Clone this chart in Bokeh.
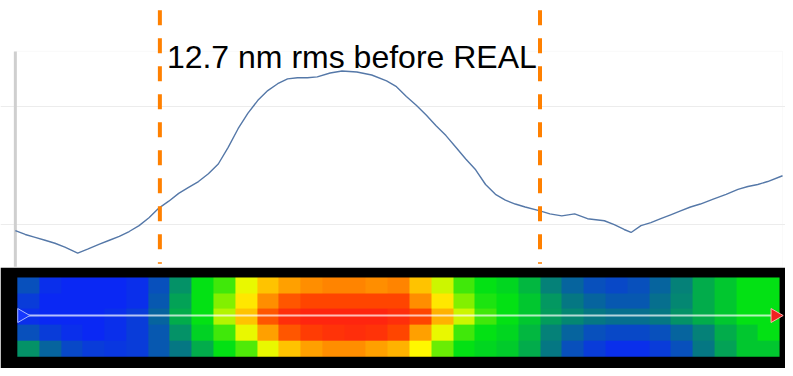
import numpy as np
from bokeh.plotting import figure
from bokeh.models import Range1d, BoxAnnotation, Label, Grid, FixedTicker, LinearColorMapper
from bokeh.embed import file_html
from bokeh.resources import INLINE

# ---- data -------------------------------------------------------------
# line profile: position along the line (um) and height (nm)
profile_x = [0.0, 1.0, 2.0, 3.0, 4.0, 5.0, 6.3, 7.3, 8.5, 9.5, 10.5, 11.5, 12.5, 13.5,
             14.5, 15.5, 16.5, 17.5, 18.5, 19.5, 20.5, 21.5, 22.5, 23.5, 24.5, 25.5,
             26.5, 27.5, 28.5, 29.5, 30.5, 31.8, 33.0, 34.5, 36.0, 37.5, 38.5, 39.5,
             40.5, 41.5, 42.5, 43.5, 44.5, 45.5, 46.5, 47.5, 48.5, 49.5, 50.5, 51.5,
             53.0, 54.0, 55.2, 56.5, 57.8, 59.5, 60.5, 61.5, 62.2, 63.2, 64.2, 65.2,
             66.2, 67.2, 68.2, 69.2, 70.5, 71.8, 73.0, 74.0, 75.0, 76.0, 77.5]
profile_nm = [-0.50, -0.83, -1.07, -1.32, -1.57, -1.90, -2.40, -2.07, -1.65, -1.32, -0.99,
              -0.58, -0.08, 0.58, 1.40, 1.98, 2.64, 3.14, 3.64, 4.30, 5.12, 6.53, 8.10,
              9.42, 10.50, 11.32, 11.90, 12.31, 12.40, 12.40, 12.48, 12.81, 12.98, 12.89,
              12.64, 12.15, 11.65, 10.83, 10.08, 9.26, 8.35, 7.52, 6.53, 5.54, 4.63, 3.39,
              2.56, 2.07, 1.74, 1.49, 1.16, 0.91, 0.74, 0.91, 0.50, 0.33, 0.00, -0.41,
              -0.66, -0.08, 0.17, 0.50, 0.83, 1.16, 1.49, 1.74, 2.15, 2.56, 2.98, 3.22,
              3.39, 3.64, 4.13]
grid_nm = [0, 10]
marker_x = [14.6, 53.0]
label_text = "12.7 nm rms before REAL"

# height map strip (normalised 0..1), rows from top to bottom
strip_row_top = [0.20, 0.12, 0.10, 0.10, 0.10, 0.12, 0.20, 0.35, 0.50, 0.55, 0.68, 0.76,
                 0.80, 0.82, 0.83, 0.83, 0.82, 0.83, 0.76, 0.66, 0.55, 0.50, 0.48, 0.42,
                 0.32, 0.25, 0.20, 0.18, 0.20, 0.25, 0.32, 0.40, 0.45, 0.50, 0.50]
strip_row_2 = [0.15, 0.10, 0.10, 0.10, 0.10, 0.12, 0.22, 0.38, 0.50, 0.60, 0.72, 0.82,
               0.88, 0.90, 0.90, 0.90, 0.90, 0.90, 0.82, 0.72, 0.60, 0.52, 0.50, 0.45,
               0.36, 0.30, 0.25, 0.22, 0.22, 0.28, 0.33, 0.40, 0.45, 0.50, 0.50]
strip_row_mid = [0.12, 0.10, 0.10, 0.10, 0.12, 0.15, 0.25, 0.40, 0.50, 0.64, 0.76, 0.88,
                 0.95, 0.97, 0.97, 0.97, 0.97, 0.95, 0.90, 0.78, 0.66, 0.55, 0.50, 0.45,
                 0.37, 0.33, 0.30, 0.28, 0.28, 0.30, 0.35, 0.40, 0.45, 0.50, 0.50]
strip_row_4 = [0.20, 0.15, 0.12, 0.10, 0.12, 0.15, 0.22, 0.35, 0.47, 0.55, 0.68, 0.80,
               0.88, 0.92, 0.94, 0.95, 0.94, 0.90, 0.80, 0.68, 0.55, 0.50, 0.48, 0.42,
               0.32, 0.25, 0.20, 0.18, 0.18, 0.20, 0.25, 0.32, 0.40, 0.45, 0.50]
strip_row_bottom = [0.35, 0.25, 0.18, 0.15, 0.14, 0.15, 0.22, 0.30, 0.40, 0.50, 0.56, 0.68,
                    0.76, 0.80, 0.82, 0.82, 0.80, 0.78, 0.70, 0.58, 0.50, 0.48, 0.46, 0.40,
                    0.30, 0.20, 0.15, 0.12, 0.12, 0.15, 0.20, 0.30, 0.38, 0.45, 0.45]
strip_x0, strip_x1 = 0.2, 77.2
line_row = 2.6

# ---- colour map (blue -> green -> yellow -> red) ------------------------
stops = [(0.0, (0, 20, 190)), (0.1, (10, 40, 245)), (0.3, (5, 120, 130)),
         (0.5, (0, 225, 20)), (0.6, (130, 240, 0)), (0.7, (255, 250, 0)),
         (0.8, (255, 160, 0)), (0.9, (255, 70, 0)), (1.0, (255, 25, 20))]
palette = []
for i in range(256):
    t = i / 255
    for (a, ca), (b, cb) in zip(stops[:-1], stops[1:]):
        if a <= t <= b:
            f = (t - a) / (b - a)
            c = [int(round(ca[k] + (cb[k] - ca[k]) * f)) for k in range(3)]
            palette.append("#%02x%02x%02x" % tuple(c))
            break
mapper = LinearColorMapper(palette=palette, low=0, high=1)

# ---- figure -----------------------------------------------------------
p = figure(width=785, height=368, x_range=Range1d(-1.5, 77.8), y_range=Range1d(-12.15, 18.93),
           x_axis_location=None, y_axis_location=None, toolbar_location=None,
           output_backend="svg", min_border=0)
p.grid.grid_line_color = None
p.outline_line_color = None
p.background_fill_color = "white"
p.extra_y_ranges = {"strip": Range1d(-0.741, 22.47)}

# profile plot box
p.add_layout(BoxAnnotation(left=0, right=77.5, bottom=-3.55, top=14.63, fill_alpha=0,
                           line_color="#efefef", line_width=1, level="underlay"))
p.add_layout(Grid(dimension=1, ticker=FixedTicker(ticks=grid_nm), bounds=(0, 77.5),
                  grid_line_color="#ececec", grid_line_width=1))
p.segment(x0=[0], y0=[-3.55], x1=[0], y1=[14.63], line_color="#cfcfcf", line_width=3)

# profile line
p.line(profile_x, profile_nm, line_color="#5578a8", line_width=1.4)

# black frame for the height map
p.add_layout(BoxAnnotation(top=5.62, y_range_name="strip", fill_color="black", fill_alpha=1,
                           line_color=None, level="underlay"))
strip = np.array([strip_row_top, strip_row_2, strip_row_mid, strip_row_4, strip_row_bottom])[::-1]
p.image(image=[strip], x=strip_x0, y=0, dw=strip_x1 - strip_x0, dh=5, color_mapper=mapper,
        y_range_name="strip")
p.segment(x0=[strip_x0 + 0.6], y0=[line_row], x1=[strip_x1 - 0.6], y1=[line_row],
          line_color="white", line_alpha=0.7, line_width=2, y_range_name="strip")
p.scatter(x=[strip_x0 + 0.45], y=[line_row], marker="triangle", angle=-np.pi / 2, size=14,
          fill_color="#1638ff", line_color="#a8b8ff", line_width=1, y_range_name="strip")
p.scatter(x=[strip_x1 - 0.45], y=[line_row], marker="triangle", angle=-np.pi / 2, size=14,
          fill_color="#f02020", line_color="#ffb0b0", line_width=1, y_range_name="strip")

# marker lines and label
p.segment(x0=marker_x, y0=[18.1] * 2, x1=marker_x, y1=[-3.3] * 2, line_color="#ff8000",
          line_width=4, line_dash="15 13")
p.add_layout(Label(x=marker_x[0], y=14.16, x_offset=7, text=label_text, text_font="Liberation Sans",
                   text_font_size="32px", text_color="black", text_baseline="alphabetic"))

open("out.html", "w").write(file_html(p, INLINE))
